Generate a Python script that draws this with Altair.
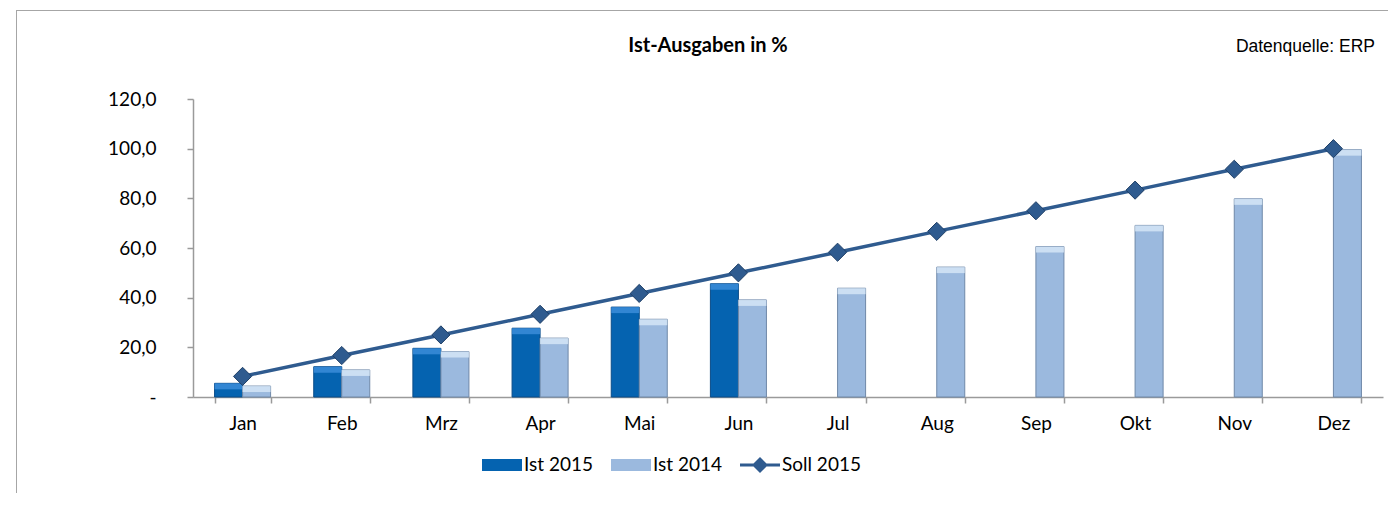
import altair as alt
import pandas as pd

months = ["Jan", "Feb", "Mrz", "Apr", "Mai", "Jun", "Jul", "Aug", "Sep", "Okt", "Nov", "Dez"]
ist_2015 = [5.5, 12.2, 19.6, 27.7, 36.2, 45.6]
ist_2014 = [4.4, 10.9, 18.3, 23.7, 31.3, 39.1, 43.8, 52.3, 60.6, 69.1, 79.8, 99.6]
soll_2015 = [8.3, 16.7, 25.0, 33.3, 41.7, 50.0, 58.3, 66.7, 75.0, 83.3, 91.7, 100.0]
series_names = ["Ist 2015", "Ist 2014", "Soll 2015"]
title_text = "Ist-Ausgaben in %"
source_text = "Datenquelle: ERP"

FONT = "Lato"
FS = 19

rows = []
for m, v in zip(months, ist_2015):
    rows.append({"month": m, "series": "Ist 2015", "value": v})
for m, v in zip(months, ist_2014):
    rows.append({"month": m, "series": "Ist 2014", "value": v})
bars_df = pd.DataFrame(rows)
line_df = pd.DataFrame({"month": months, "value": soll_2015})
legend_df = pd.DataFrame({"month": ["Jan"] * 3, "series": series_names, "value": [None] * 3})

x_scale = alt.Scale(domain=months, paddingInner=0.435, paddingOuter=0.2175)
y_scale = alt.Scale(domain=[0, 120])
off_scale = alt.Scale(domain=["Ist 2015", "Ist 2014"], paddingInner=0, paddingOuter=0)
color_scale = alt.Scale(domain=series_names, range=["#0563b0", "#9bb9de", "#2f5b8f"])

x_enc = alt.X("month:N", scale=x_scale, sort=months, title=None,
              axis=alt.Axis(tickBand="extent", labelAngle=0, tickSize=6, labelPadding=11,
                            domainColor="#9a9a9a", tickColor="#9a9a9a", domainWidth=1.5, tickWidth=1.5,
                            labelFont=FONT, labelFontSize=FS, labelColor="#000000"))
y_enc = alt.Y("value:Q", scale=y_scale, title=None,
              axis=alt.Axis(values=[0, 20, 40, 60, 80, 100, 120], grid=False, tickSize=6, labelPadding=31,
                            labelExpr="datum.value == 0 ? '-\u00a0\u00a0\u00a0' : replace(format(datum.value, '.1f'), '.', ',')",
                            domainColor="#9a9a9a", tickColor="#9a9a9a", domainWidth=1.5, tickWidth=1.5,
                            labelFont=FONT, labelFontSize=FS, labelColor="#000000"))

bars = alt.Chart(bars_df).mark_bar(strokeWidth=1).encode(
    x=x_enc,
    xOffset=alt.XOffset("series:N", scale=off_scale),
    y=y_enc,
    color=alt.Color("series:N", scale=color_scale, legend=None),
    stroke=alt.Stroke("series:N", scale=alt.Scale(domain=["Ist 2015", "Ist 2014"], range=["#0b4c88", "#6f88a8"]), legend=None),
)

tops = alt.Chart(bars_df).mark_bar(y2Offset=6, opacity=0.8).encode(
    x=alt.X("month:N", scale=x_scale, sort=months),
    xOffset=alt.XOffset("series:N", scale=off_scale),
    y=alt.Y("value:Q", scale=y_scale),
    y2="value:Q",
    fill=alt.Fill("series:N", scale=alt.Scale(domain=["Ist 2015", "Ist 2014"], range=["#3d8fdc", "#d8e8f8"]), legend=None),
)

line = alt.Chart(line_df).mark_line(color="#2f5b8f", strokeWidth=3.5).encode(
    x=alt.X("month:N", scale=x_scale, sort=months),
    y=alt.Y("value:Q", scale=y_scale),
)
markers = alt.Chart(line_df).mark_point(shape="diamond", size=330, filled=True, opacity=1,
                                        color="#2f5b8f", stroke="#1f3f66", strokeWidth=1).encode(
    x=alt.X("month:N", scale=x_scale, sort=months),
    y=alt.Y("value:Q", scale=y_scale),
)

rect_path = "M-1,-0.3H1V0.3H-1Z"
line_path = "M-1,-0.07H1V0.07H-1Z M0,-0.4L0.4,0L0,0.4L-0.4,0Z"
leg = dict(title=None, orient="none", legendX=289, legendY=346,
           direction="horizontal", symbolSize=1600, symbolStrokeWidth=0,
           labelFont=FONT, labelFontSize=FS, labelColor="#000000",
           labelOffset=2, columnPadding=17)
legend_layer = alt.Chart(legend_df).mark_point(filled=True, opacity=1).encode(
    x=alt.X("month:N", scale=x_scale, sort=months),
    y=alt.Y("value:Q", scale=y_scale),
    color=alt.Color("series:N", scale=color_scale, legend=alt.Legend(**leg)),
    shape=alt.Shape("series:N", scale=alt.Scale(domain=series_names, range=[rect_path, rect_path, line_path]),
                    legend=alt.Legend(**leg)),
)

one = alt.Data(values=[{"k": 1}])
frame_v = alt.Chart(one).mark_rule(stroke="#a6a6a6", strokeWidth=1).encode(
    x=alt.value(-176.5), y=alt.value(-89), y2=alt.value(400))
frame_h = alt.Chart(one).mark_rule(stroke="#a6a6a6", strokeWidth=1).encode(
    x=alt.value(-177), x2=alt.value(1195), y=alt.value(-88.5))
title = alt.Chart(one).mark_text(fontWeight="bold", fontSize=20, font=FONT, color="#000000",
                                 align="center", baseline="middle").encode(
    x=alt.value(515), y=alt.value(-53), text=alt.value(title_text))
source = alt.Chart(one).mark_text(fontSize=17.5, font="Liberation Sans", color="#000000",
                                  align="right", baseline="middle").encode(
    x=alt.value(1182), y=alt.value(-52), text=alt.value(source_text))

chart = alt.layer(frame_v, frame_h, bars, tops, line, markers, legend_layer, title, source).properties(
    width=1190, height=298,
    autosize=alt.AutoSizeParams(type="none"),
    padding={"left": 185, "top": 91, "right": 5, "bottom": 96},
).resolve_legend(color="independent", shape="independent").configure_view(stroke=None)

chart.save("out.html", embed_options={"renderer": "svg", "actions": False})
